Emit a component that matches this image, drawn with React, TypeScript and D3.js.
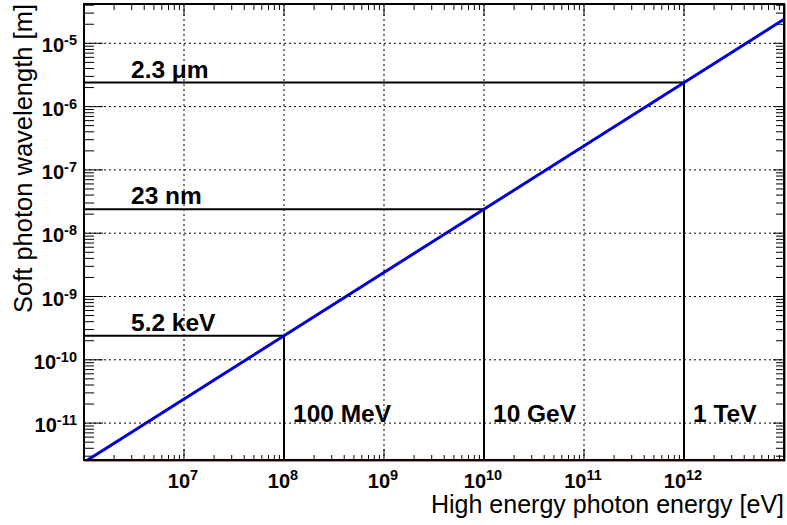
import React from "react";
import * as d3 from "d3";

// blue line end points
const lineEnergy = [1e6, 1e13];
const lineWavelength = [2.4e-12, 2.4e-5];

// threshold markers
const markEnergy = [1e8, 1e10, 1e12];
const markWavelength = [2.4e-10, 2.4e-8, 2.4e-6];
const wavelengthLabels = ["5.2 keV", "23 nm", "2.3 \u03bcm"];
const energyLabels = ["100 MeV", "10 GeV", "1 TeV"];

const xTickExps = [7, 8, 9, 10, 11, 12];
const yTickExps = [-11, -10, -9, -8, -7, -6, -5];

const width = 787;
const height = 525;
const margin = { top: 4, right: 3, bottom: 65, left: 84 };

const font = "'Liberation Sans', Arial, Helvetica, sans-serif";

export default function App() {
  const innerWidth = width - margin.left - margin.right;
  const innerHeight = height - margin.top - margin.bottom;

  const x = d3.scaleLog().domain([1e6, 1e13]).range([0, innerWidth]);
  const y = d3
    .scaleLog()
    .domain([Math.pow(10, -11.583), Math.pow(10, -4.379)])
    .range([innerHeight, 0]);

  const line = d3
    .line<number>()
    .x((d, i) => x(lineEnergy[i]))
    .y(d => y(d));

  // minor ticks in every decade
  const xMinor: number[] = [];
  for (let e = 6; e < 13; e++) for (let k = 2; k <= 9; k++) xMinor.push(k * Math.pow(10, e));
  const yMinor: number[] = [];
  for (let e = -12; e < -4; e++)
    for (let k = 2; k <= 9; k++) {
      const v = k * Math.pow(10, e);
      if (v >= y.domain()[0] && v <= y.domain()[1]) yMinor.push(v);
    }

  return (
    <svg
      width={width}
      height={height}
      style={{ position: "absolute", left: 0, top: 0, background: "#fff" }}
      fontFamily={font}
    >
      <defs>
        <clipPath id="frame-clip">
          <rect x={0} y={0} width={innerWidth} height={innerHeight} />
        </clipPath>
      </defs>
      <g transform={`translate(${margin.left},${margin.top})`}>
        {/* grid */}
        {xTickExps.map(e => (
          <line
            key={"gx" + e}
            x1={x(Math.pow(10, e))}
            x2={x(Math.pow(10, e))}
            y1={0}
            y2={innerHeight}
            stroke="#000"
            strokeWidth={1}
            strokeDasharray="2,3"
          />
        ))}
        {yTickExps.map(e => (
          <line
            key={"gy" + e}
            x1={0}
            x2={innerWidth}
            y1={y(Math.pow(10, e))}
            y2={y(Math.pow(10, e))}
            stroke="#000"
            strokeWidth={1}
            strokeDasharray="2,3"
          />
        ))}

        {/* x ticks bottom and top */}
        {xMinor.map((v, i) => (
          <g key={"xm" + i}>
            <line x1={x(v)} x2={x(v)} y1={innerHeight} y2={innerHeight - 5} stroke="#000" />
            <line x1={x(v)} x2={x(v)} y1={0} y2={6} stroke="#000" />
          </g>
        ))}
        {xTickExps.map(e => (
          <g key={"xM" + e}>
            <line x1={x(Math.pow(10, e))} x2={x(Math.pow(10, e))} y1={innerHeight} y2={innerHeight - 11} stroke="#000" />
            <line x1={x(Math.pow(10, e))} x2={x(Math.pow(10, e))} y1={0} y2={12} stroke="#000" />
          </g>
        ))}

        {/* y ticks left and right */}
        {yMinor.map((v, i) => (
          <g key={"ym" + i}>
            <line x1={0} x2={10} y1={y(v)} y2={y(v)} stroke="#000" />
            <line x1={innerWidth} x2={innerWidth - 8} y1={y(v)} y2={y(v)} stroke="#000" />
          </g>
        ))}
        {yTickExps.map(e => (
          <g key={"yM" + e}>
            <line x1={0} x2={19} y1={y(Math.pow(10, e))} y2={y(Math.pow(10, e))} stroke="#000" />
            <line x1={innerWidth} x2={innerWidth - 11} y1={y(Math.pow(10, e))} y2={y(Math.pow(10, e))} stroke="#000" />
          </g>
        ))}

        {/* threshold markers */}
        {markEnergy.map((E, i) => (
          <g key={"mk" + i}>
            <line x1={0} x2={x(E)} y1={y(markWavelength[i])} y2={y(markWavelength[i])} stroke="#000" strokeWidth={2} />
            <line x1={x(E)} x2={x(E)} y1={y(markWavelength[i])} y2={innerHeight} stroke="#000" strokeWidth={2} />
            <text
              x={47}
              y={y(markWavelength[i]) - 5}
              fontSize={24.5}
              fontWeight="bold"
              fill="#000"
            >
              {wavelengthLabels[i]}
            </text>
            <text x={x(E) + 9} y={418} fontSize={24.5} fontWeight="bold" fill="#000">
              {energyLabels[i]}
            </text>
          </g>
        ))}

        {/* the line */}
        <path
          d={line(lineWavelength) || ""}
          fill="none"
          stroke="#0000d0"
          strokeWidth={3}
          clipPath="url(#frame-clip)"
        />

        {/* frame */}
        <line x1={innerWidth + 1} x2={innerWidth + 1} y1={0} y2={innerHeight + 1} stroke="#a00000" strokeWidth={1} />
        <line x1={0} x2={innerWidth + 1} y1={innerHeight + 1} y2={innerHeight + 1} stroke="#a00000" strokeWidth={1} />
        <rect x={0} y={0} width={innerWidth} height={innerHeight} fill="none" stroke="#000" strokeWidth={2} />

        {/* tick labels */}
        {xTickExps.map(e => (
          <text
            key={"xl" + e}
            x={x(Math.pow(10, e)) - 1}
            y={innerHeight + 28}
            textAnchor="middle"
            fontSize={20}
            fontWeight="bold"
          >
            10
            <tspan fontSize={14.5} dy={-8}>
              {e}
            </tspan>
          </text>
        ))}
        {yTickExps.map(e => (
          <text
            key={"yl" + e}
            x={-7}
            y={y(Math.pow(10, e)) + 9}
            textAnchor="end"
            fontSize={20}
            fontWeight="bold"
          >
            10
            <tspan fontSize={14.5} dy={-7}>
              {"-" + Math.abs(e)}
            </tspan>
          </text>
        ))}

        {/* axis titles */}
        <text x={innerWidth} y={innerHeight + 53} textAnchor="end" fontSize={25}>
          High energy photon energy [eV]
        </text>
        <text
          transform={`translate(${-52},0) rotate(-90)`}
          textAnchor="end"
          fontSize={25.5}
        >
          Soft photon wavelength [m]
        </text>
      </g>
    </svg>
  );
}
